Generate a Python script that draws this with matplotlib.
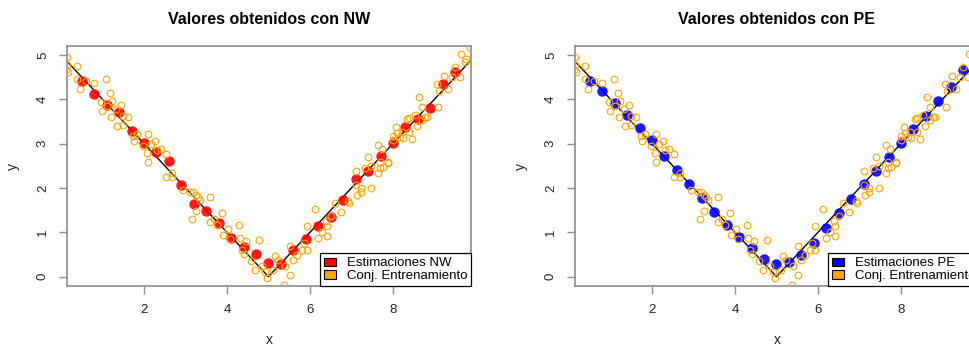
import matplotlib
matplotlib.use("Agg")
import matplotlib.pyplot as plt
from matplotlib.patches import Patch
import numpy as np

plt.rcParams["font.family"] = ["Liberation Sans", "DejaVu Sans"]

# conjunto de entrenamiento (x, y)
train_x = [
    0.15, 0.15, 0.18, 0.12, 0.39, 0.38, 0.46, 0.60, 0.80, 1.08, 1.18, 0.96,
    1.00, 1.22, 1.12, 1.44, 1.33, 1.20, 1.50, 1.62, 1.34, 1.49, 1.82, 1.76,
    1.73, 2.10, 2.27, 2.18, 1.97, 2.08, 2.09, 2.41, 2.53, 2.31,
    2.53, 2.68, 2.67, 2.95, 3.11, 3.19, 3.25, 3.29, 3.35, 3.59, 3.25, 3.16,
    3.59, 3.69, 3.88, 3.77, 3.91, 4.03, 4.29, 4.31, 4.07, 4.47, 4.35, 4.41,
    4.78, 4.58, 4.68, 4.85, 4.97, 4.92,
    5.12, 5.16, 5.37, 5.24, 5.52, 5.41, 5.60, 5.68, 5.52, 5.80, 5.92, 5.86,
    5.94, 6.12, 6.19, 6.40, 6.30, 6.39, 6.42, 6.60, 6.50, 6.75, 6.94, 6.91,
    7.14, 7.24, 7.12, 7.24, 7.12, 7.47, 7.32, 7.47, 7.65, 7.69, 7.87, 7.77,
    7.39, 7.63, 7.74, 7.69, 7.87, 7.99, 8.01, 8.07, 8.17, 8.25, 8.09, 8.21,
    8.45, 8.38, 8.33, 8.38, 8.53, 8.59, 8.69, 8.83, 8.77, 8.62, 8.71, 9.08,
    9.11, 9.07, 9.23, 9.32, 9.43, 9.49, 9.61, 9.65, 9.76, 9.73, 9.85,
]
train_y = [
    4.96, 4.77, 4.62, 4.66, 4.74, 4.46, 4.23, 4.42, 4.36, 4.45, 4.14, 3.93,
    3.74, 3.96, 3.85, 3.87, 3.77, 3.61, 3.63, 3.59, 3.40, 3.42, 3.22, 3.06,
    3.16, 3.22, 3.06, 3.00, 2.95, 2.78, 2.58, 2.87, 2.77, 2.85,
    2.25, 2.33, 2.24, 1.95, 1.90, 1.91, 1.84, 1.79, 1.73, 1.80, 1.49, 1.30,
    1.24, 1.29, 1.43, 1.16, 0.94, 1.07, 1.16, 0.88, 0.86, 0.81, 0.61, 0.52,
    0.82, 0.35, 0.15, 0.24, -0.02, 0.11,
    0.15, 0.46, -0.19, 0.37, 0.03, 0.24, 0.37, 0.48, 0.69, 0.61, 0.61, 0.76,
    1.14, 1.52, 0.88, 0.91, 1.01, 1.25, 1.14, 1.67, 1.36, 1.46, 1.67, 1.71,
    1.85, 1.91, 2.06, 2.01, 2.39, 2.01, 2.44, 2.49, 2.33, 2.44, 2.57, 2.48,
    2.69, 2.97, 2.87, 2.59, 2.59, 3.17, 3.08, 3.38, 3.14, 3.12, 3.23, 3.27,
    3.10, 3.27, 3.55, 3.57, 3.65, 3.40, 3.53, 3.61, 3.59, 4.04, 3.83, 3.83,
    4.19, 4.34, 4.53, 4.22, 4.51, 4.73, 4.51, 5.02, 4.91, 4.85, 5.15,
]

# puntos donde se estima
grid_x = [0.5, 0.8, 1.1, 1.4, 1.7, 2.0, 2.3, 2.6, 2.9, 3.2, 3.5, 3.8, 4.1,
          4.4, 4.7, 5.0, 5.3, 5.6, 5.9, 6.2, 6.5, 6.8, 7.1, 7.4, 7.7, 8.0,
          8.3, 8.6, 8.9, 9.2, 9.5]

# estimador Nadaraya-Watson
nw_y = [4.42, 4.12, 3.87, 3.72, 3.29, 3.01, 2.80, 2.61, 2.07, 1.63, 1.49,
        1.20, 0.88, 0.66, 0.52, 0.31, 0.28, 0.61, 0.85, 1.15, 1.34, 1.73,
        2.21, 2.39, 2.72, 3.01, 3.38, 3.55, 3.81, 4.34, 4.61]

# estimador por polinomios locales
pe_y = [4.40, 4.19, 3.91, 3.65, 3.36, 3.07, 2.72, 2.40, 2.08, 1.77, 1.46,
        1.16, 0.90, 0.64, 0.40, 0.28, 0.33, 0.49, 0.76, 1.10, 1.43, 1.74,
        2.08, 2.39, 2.70, 3.02, 3.32, 3.62, 3.95, 4.28, 4.65]

panels = [
    ("Valores obtenidos con NW", nw_y, "#FF0000", "Estimaciones NW"),
    ("Valores obtenidos con PE", pe_y, "#0000FF", "Estimaciones PE"),
]

XLIM = (0.145, 9.88)
YLIM = (-0.21, 5.2)
FRAME = "#8c8c8c"

fig = plt.figure(figsize=(9.7, 3.49), dpi=100)
lefts = [67 / 970, 575 / 970]

for left, (title, est_y, col, lab) in zip(lefts, panels):
    ax = fig.add_axes([left, 63 / 349, 404 / 970, 240 / 349])
    xs = np.linspace(XLIM[0], XLIM[1], 400)
    ax.plot(xs, np.abs(xs - 5), color="black", lw=1.0, zorder=2)
    ax.plot(grid_x, est_y, "o", color=col, ms=7.5, alpha=0.9, mec="none", zorder=3)
    ax.plot(train_x, train_y, "o", mfc="none", mec="#FFA500", ms=4.8, mew=0.8, zorder=4)

    ax.set_xlim(*XLIM)
    ax.set_ylim(*YLIM)
    ax.set_xticks([2, 4, 6, 8])
    ax.set_yticks([0, 1, 2, 3, 4, 5])
    for lbl in ax.get_yticklabels():
        lbl.set_rotation(90)
        lbl.set_va("center")
    ax.tick_params(axis="both", direction="out", length=6, width=1,
                   color=FRAME, labelsize=9.5, labelcolor="#222222", pad=7)
    for sp in ax.spines.values():
        sp.set_color(FRAME)
        sp.set_linewidth(1.2)
    ax.set_xlabel("x", fontsize=10, color="#222222", labelpad=12)
    ax.set_ylabel("y", fontsize=10, color="#222222", labelpad=12)
    ax.set_title(title, fontsize=11.5, weight="bold", pad=16)

    handles = [Patch(facecolor=col, edgecolor="black", lw=0.8),
               Patch(facecolor="#FFA500", edgecolor="black", lw=0.8)]
    leg = ax.legend(handles, [lab, "Conj. Entrenamiento"], loc="lower right",
                    fontsize=9.5, borderaxespad=0, fancybox=False,
                    framealpha=1, edgecolor="black", handlelength=0.9,
                    handleheight=0.6, handletextpad=0.8, labelspacing=0.05,
                    borderpad=0.3)
    leg.get_frame().set_linewidth(0.9)
    leg.set_zorder(5)

fig.savefig("out.png", dpi=100)
